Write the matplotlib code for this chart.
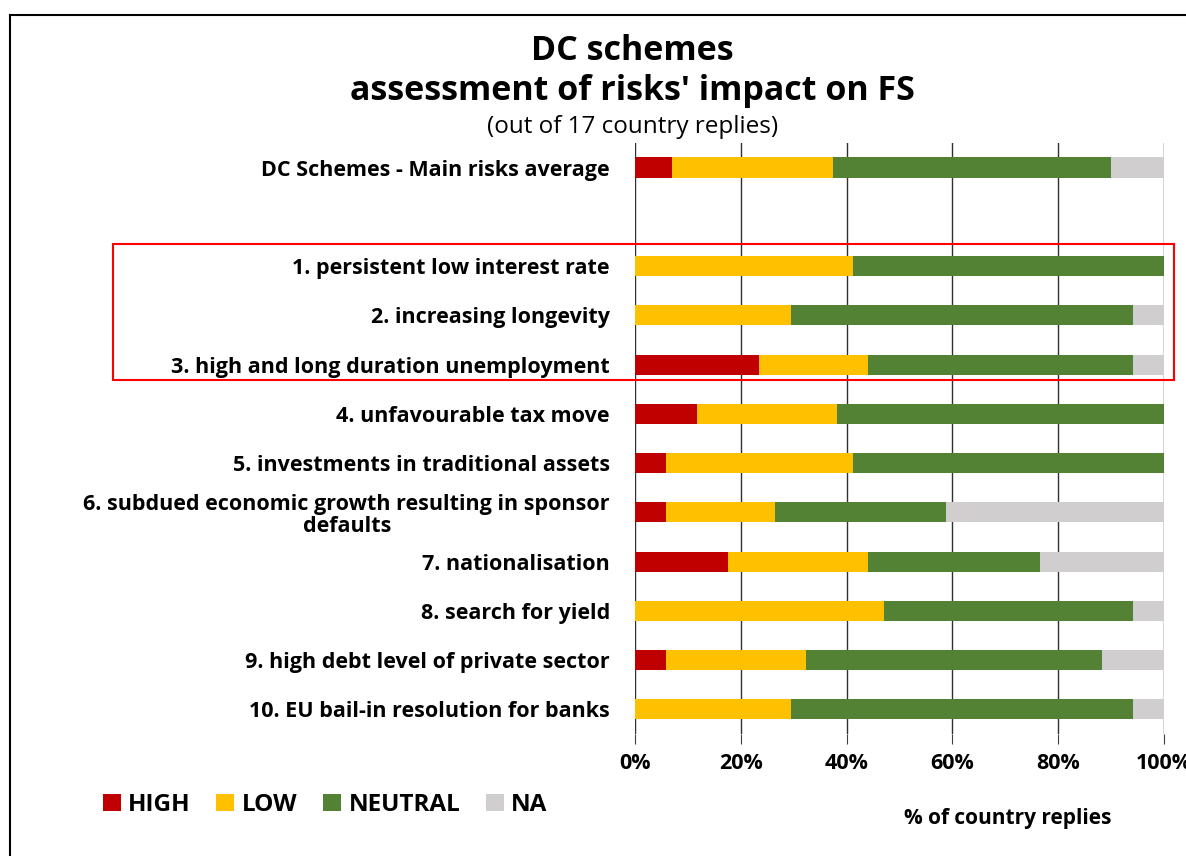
import numpy as np
import matplotlib.pyplot as plt
from matplotlib.patches import Rectangle

plt.rcParams['font.family'] = ['Open Sans', 'DejaVu Sans']

# risk labels, top to bottom ('' = blank spacer row)
risks = ['DC Schemes - Main risks average', '',
         '1. persistent low interest rate',
         '2. increasing longevity',
         '3. high and long duration unemployment',
         '4. unfavourable tax move',
         '5. investments in traditional assets',
         '6. subdued economic growth resulting in sponsor\ndefaults',
         '7. nationalisation',
         '8. search for yield',
         '9. high debt level of private sector',
         '10. EU bail-in resolution for banks']

# shares of country replies (%)
high    = [7.0, 0, 0.0,  0.0,  23.5, 11.8, 5.9,  5.9,  17.6, 0.0,  5.9,  0.0]
low     = [30.4, 0, 41.2, 29.4, 20.6, 26.4, 35.3, 20.6, 26.5, 47.1, 26.5, 29.4]
neutral = [52.6, 0, 58.8, 64.7, 50.0, 61.8, 58.8, 32.3, 32.4, 47.0, 55.8, 64.7]
na      = [10.0, 0, 0.0,  5.9,  5.9,  0.0,  0.0,  41.2, 23.5, 5.9,  11.8, 5.9]

series = ['HIGH', 'LOW', 'NEUTRAL', 'NA']
colors = ['#C00000', '#FFC000', '#548235', '#D0CECE']

fig = plt.figure(figsize=(11.86, 8.56), dpi=100)
ax = fig.add_axes([0.5354, 0.1425, 0.4461, 0.6905])

y = np.arange(len(risks))
left = np.zeros(len(risks))
for name, vals, col in zip(series, [high, low, neutral, na], colors):
    vals = np.array(vals)
    ax.barh(y, vals, left=left, height=0.41, color=col, label=name,
            linewidth=0, zorder=3)
    left += vals

ax.set_ylim(len(risks) - 0.5, -0.5)
ax.set_xlim(0, 100)
ax.set_xticks(np.arange(0, 101, 20))
ax.set_xticklabels([f'{v}%' for v in range(0, 101, 20)], fontsize=15.5, fontweight='bold')
ax.set_yticks(y)
ax.set_yticklabels(risks, fontsize=15.5, fontweight='bold', multialignment='center',
                   linespacing=1.05)
ax.tick_params(axis='y', length=0, pad=18)
ax.tick_params(axis='x', length=7, color='#404040', pad=7, direction='out')
ax.grid(axis='x', color='#303030', linewidth=1, zorder=0)
for s in ax.spines.values():
    s.set_visible(False)

ax.set_xlabel('% of country replies', fontsize=15, fontweight='bold')
ax.xaxis.set_label_coords(0.705, -0.126)

fig.text(0.533, 0.941, 'DC schemes', ha='center', va='center', fontsize=24.5, fontweight='bold')
fig.text(0.533, 0.894, "assessment of risks' impact on FS", ha='center', va='center',
         fontsize=24.5, fontweight='bold')
fig.text(0.533, 0.852, '(out of 17 country replies)', ha='center', va='center', fontsize=17.5)

fig.legend(loc='center left', bbox_to_anchor=(0.068, 0.06), ncol=4, frameon=False,
           prop={'size': 17.5, 'weight': 'bold'}, handlelength=0.75, handleheight=0.7,
           handletextpad=0.3, columnspacing=1.05)

# red highlight box around risks 1-3
fig.patches.append(Rectangle((113 / 1186, 1 - 380 / 856), (1174 - 113) / 1186, (380 - 244) / 856,
                             transform=fig.transFigure, fill=False, edgecolor='#FF0000',
                             linewidth=1.5, zorder=10))
# outer frame lines (left and top)
fig.add_artist(plt.Line2D([10 / 1186, 10 / 1186], [0, 1 - 15 / 856], transform=fig.transFigure,
                          color='black', linewidth=1.5))
fig.add_artist(plt.Line2D([10 / 1186, 1], [1 - 15 / 856, 1 - 15 / 856], transform=fig.transFigure,
                          color='black', linewidth=1.5))

fig.savefig('out.png', dpi=100)
